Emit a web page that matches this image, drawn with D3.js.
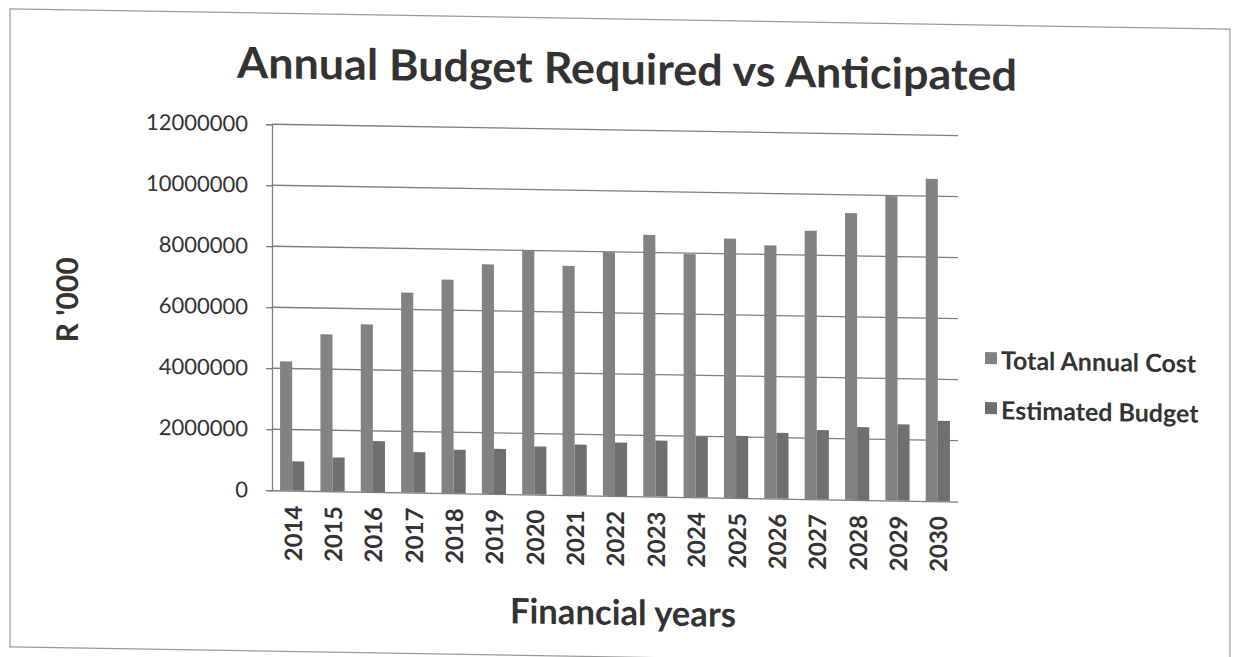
<!DOCTYPE html>
<html><head><meta charset="utf-8">
<script src="https://cdn.jsdelivr.net/npm/d3@7"></script>
<style>body{margin:0;background:#fff}svg{display:block}</style>
</head><body><svg id="c" width="1241" height="657"></svg>
<script>
const years = ["2014","2015","2016","2017","2018","2019","2020","2021","2022","2023","2024","2025","2026","2027","2028","2029","2030"];
const totalAnnualCost = [4230000,5140000,5490000,6550000,7000000,7520000,8000000,7520000,7990000,8580000,7970000,8500000,8300000,8800000,9400000,9980000,10570000];
const estimatedBudget = [960000,1110000,1670000,1330000,1430000,1480000,1580000,1660000,1750000,1840000,1980000,2040000,2160000,2270000,2390000,2500000,2640000];
const seriesNames = ["Total Annual Cost","Estimated Budget"];
const seriesColors = ["#828282","#6f6f6f"];
const yTicks = [0,2000000,4000000,6000000,8000000,10000000,12000000];
const titleText = "Annual Budget Required vs Anticipated";
const xTitle = "Financial years";
const yTitle = "R '000";

const svg = d3.select("#c");
const font = "Lato, 'Open Sans', sans-serif";
const textColor = "#333333";
// scanned page is slightly skewed
const root = svg.append("g").attr("transform","translate(620,330) skewY(0.95) translate(-620,-330)");

root.append("rect").attr("x",10).attr("y",19).attr("width",1220).attr("height",638)
  .attr("fill","none").attr("stroke","#9a9a9a").attr("stroke-width",1.2);

const L = 272, R = 958, T = 130, B = 496;
const y = d3.scaleLinear().domain([0,12000000]).range([B,T]);
const x0 = d3.scaleBand().domain(years).range([L,R]).padding(0);
const x1 = d3.scaleBand().domain(seriesNames).range([x0.bandwidth()*0.2, x0.bandwidth()*0.8]).padding(0);

// gridlines
root.append("g").selectAll("line").data(yTicks.filter(d=>d>0)).join("line")
  .attr("x1",L).attr("x2",R).attr("y1",d=>y(d)).attr("y2",d=>y(d))
  .attr("stroke","#7e7e7e").attr("stroke-width",1.3);

// y axis
const yAxis = root.append("g").attr("transform",`translate(${L},0)`)
  .call(d3.axisLeft(y).tickValues(yTicks).tickFormat(d3.format("d")).tickSize(6).tickPadding(18));
yAxis.select(".domain").attr("stroke","#7e7e7e").attr("stroke-width",1.3);
yAxis.selectAll(".tick line").attr("stroke","#7e7e7e").attr("stroke-width",1.3);
yAxis.selectAll("text").attr("font-family",font).attr("font-size",22).attr("fill",textColor);

// bars
const rows = years.map((yr,i)=>({year:yr, vals:[totalAnnualCost[i], estimatedBudget[i]]}));
const grp = root.append("g").selectAll("g").data(rows).join("g")
  .attr("transform",d=>`translate(${x0(d.year)},0)`);
grp.selectAll("rect").data(d=>d.vals.map((v,j)=>({name:seriesNames[j], v, j}))).join("rect")
  .attr("x",d=>x1(d.name)).attr("width",x1.bandwidth())
  .attr("y",d=>y(d.v)).attr("height",d=>B-y(d.v))
  .attr("fill",d=>seriesColors[d.j]);

// x axis baseline
const xAxis = root.append("g").attr("transform",`translate(0,${B})`)
  .call(d3.axisBottom(x0).tickSize(0).tickPadding(0));
xAxis.select(".domain").attr("stroke","#7e7e7e").attr("stroke-width",1.3);
xAxis.selectAll("text")
  .attr("font-family",font).attr("font-size",24).attr("font-weight","bold").attr("fill",textColor)
  .attr("text-anchor","end").attr("dy",null).attr("y",null)
  .attr("transform","translate(0,15) rotate(-90)").attr("dominant-baseline","central");

// titles
root.append("text").attr("x",627).attr("y",84).attr("text-anchor","middle")
  .attr("font-family",font).attr("font-weight","bold").attr("font-size",43).attr("fill",textColor)
  .attr("textLength",780).attr("lengthAdjust","spacingAndGlyphs").text(titleText);
root.append("text").attr("x",623).attr("y",625).attr("text-anchor","middle")
  .attr("font-family",font).attr("font-weight","bold").attr("font-size",35).attr("fill",textColor)
  .attr("textLength",226).attr("lengthAdjust","spacingAndGlyphs").text(xTitle);
root.append("text").attr("transform","translate(66,309) rotate(-90)").attr("text-anchor","middle")
  .attr("dominant-baseline","central")
  .attr("font-family",font).attr("font-weight","bold").attr("font-size",30).attr("fill",textColor).text(yTitle);

// legend
const lg = root.append("g").selectAll("g").data(seriesNames).join("g")
  .attr("transform",(d,i)=>`translate(985,${352+i*50})`);
lg.append("rect").attr("x",0).attr("y",-6).attr("width",12).attr("height",12)
  .attr("fill",(d,i)=>seriesColors[i]);
lg.append("text").attr("x",16).attr("y",1).attr("dominant-baseline","central")
  .attr("font-family",font).attr("font-weight","bold").attr("font-size",25).attr("fill",textColor).text(d=>d);
</script></body></html>
